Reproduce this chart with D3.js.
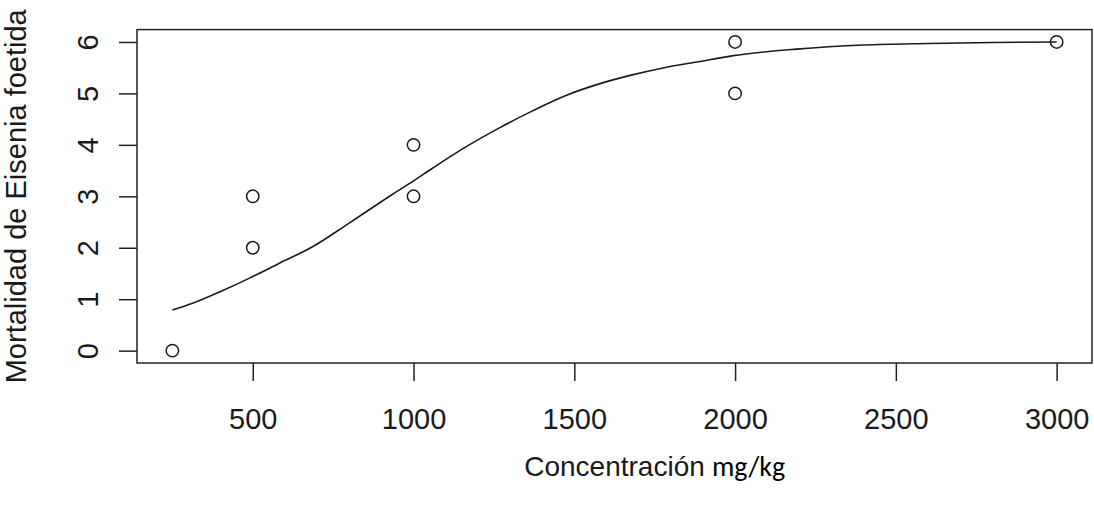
<!DOCTYPE html>
<html>
<head>
<meta charset="utf-8">
<script src="https://cdn.jsdelivr.net/npm/d3@7"></script>
<style>
  body { margin: 0; background: #fff; }
  svg { display: block; }
  text { font-family: Arial, "Liberation Sans", sans-serif; fill: #1a1a1a; }
</style>
</head>
<body>
<svg id="chart"></svg>
<script>
(function() {

  // observed points
  var concentracion = [250, 500, 500, 1000, 1000, 2000, 2000, 3000];
  var mortalidad = [0, 2, 3, 3, 4, 5, 6, 6];

  // fitted curve
  var curveX = [250, 313, 400, 490, 583, 686, 800, 935, 1000, 1060, 1160, 1270, 1370,
                1470, 1580, 1680, 1780, 1890, 1990, 2190, 2400, 2600, 2800, 3000];
  var curveY = [0.79, 0.92, 1.15, 1.41, 1.70, 2.02, 2.48, 3.04, 3.30, 3.55, 3.95, 4.34, 4.66,
                4.95, 5.19, 5.36, 5.50, 5.62, 5.73, 5.86, 5.94, 5.97, 5.99, 6.00];

  var xTicks = [500, 1000, 1500, 2000, 2500, 3000];
  var yTicks = [0, 1, 2, 3, 4, 5, 6];

  var width = 1094, height = 506;
  var left = 137, right = 1092, top = 29.6, bottom = 363;

  var svg = d3.select("#chart")
    .attr("width", width)
    .attr("height", height);

  var x = d3.scaleLinear().domain([140, 3110]).range([left, right]);
  var y = d3.scaleLinear().domain([-0.24, 6.24]).range([bottom, top]);

  // box
  svg.append("rect")
    .attr("x", left)
    .attr("y", top)
    .attr("width", right - left)
    .attr("height", bottom - top)
    .attr("fill", "none")
    .attr("stroke", "#222")
    .attr("stroke-width", 1.5);

  // x axis
  var xAxis = svg.append("g")
    .attr("transform", "translate(0," + bottom + ")")
    .call(d3.axisBottom(x).tickValues(xTicks).tickSize(18).tickPadding(27).tickFormat(d3.format("d")));
  xAxis.select(".domain").remove();
  xAxis.selectAll("line").attr("stroke", "#222").attr("stroke-width", 1.5);
  xAxis.selectAll("text")
    .attr("font-size", 29)
    .attr("font-family", "Arial, 'Liberation Sans', sans-serif")
    .attr("fill", "#1a1a1a");

  // y axis
  var yAxis = svg.append("g")
    .attr("transform", "translate(" + left + ",0)")
    .call(d3.axisLeft(y).tickValues(yTicks).tickSize(18));
  yAxis.select(".domain").remove();
  yAxis.selectAll("line").attr("stroke", "#222").attr("stroke-width", 1.5);
  yAxis.selectAll("text").remove();
  yAxis.selectAll(".tick").append("text")
    .attr("transform", "translate(-39,0) rotate(-90)")
    .attr("text-anchor", "middle")
    .attr("font-size", 29)
    .attr("font-family", "Arial, 'Liberation Sans', sans-serif")
    .attr("fill", "#1a1a1a")
    .text(function(d) { return d; });

  // fitted curve
  var line = d3.line()
    .curve(d3.curveMonotoneX)
    .x(function(d) { return x(d[0]); })
    .y(function(d) { return y(d[1]); });

  svg.append("path")
    .datum(d3.zip(curveX, curveY))
    .attr("d", line)
    .attr("fill", "none")
    .attr("stroke", "#1a1a1a")
    .attr("stroke-width", 1.6);

  // points
  svg.selectAll("circle.pt")
    .data(d3.zip(concentracion, mortalidad))
    .enter().append("circle")
      .attr("class", "pt")
      .attr("cx", function(d) { return x(d[0]); })
      .attr("cy", function(d) { return y(d[1]); })
      .attr("r", 6.2)
      .attr("fill", "none")
      .attr("stroke", "#1a1a1a")
      .attr("stroke-width", 1.5);

  // axis titles
  var cx = (left + right) / 2;
  svg.append("text")
    .attr("x", cx)
    .attr("y", 476)
    .attr("text-anchor", "middle")
    .attr("font-size", 28)
    .text("Concentración");

  svg.append("text")
    .attr("x", 712)
    .attr("y", 476)
    .attr("font-size", 28)
    .style("font-family", "Carlito, Lato, 'Noto Sans', sans-serif")
    .style("fill", "#000")
    .text("mg/kg");

  svg.append("text")
    .attr("transform", "translate(26," + ((top + bottom) / 2) + ") rotate(-90)")
    .attr("text-anchor", "middle")
    .attr("font-size", 29)
    .text("Mortalidad de Eisenia foetida");

})();
</script>
</body>
</html>
